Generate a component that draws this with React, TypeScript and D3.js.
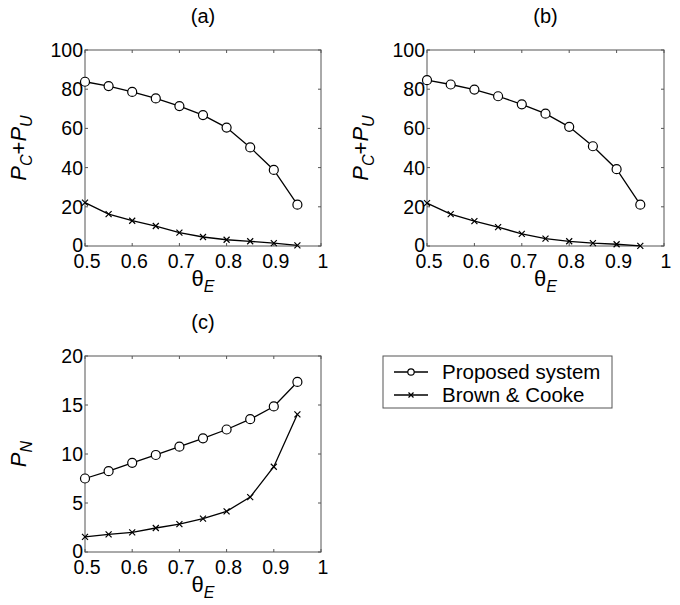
import React from "react";
import * as d3 from "d3";

// θ_E values shared by every panel
const theta = [0.5, 0.55, 0.6, 0.65, 0.7, 0.75, 0.8, 0.85, 0.9, 0.95];

// (a) P_C + P_U
const aProposed = [83.8, 81.6, 78.6, 75.3, 71.4, 66.8, 60.4, 50.3, 38.8, 21.1];
const aBrown = [22.1, 16.3, 12.9, 10.2, 6.8, 4.6, 3.2, 2.4, 1.5, 0.3];

// (b) P_C + P_U
const bProposed = [84.6, 82.4, 79.8, 76.4, 72.3, 67.5, 60.8, 50.9, 39.2, 21.1];
const bBrown = [21.9, 16.3, 12.7, 9.6, 6.2, 3.8, 2.4, 1.5, 0.9, 0.1];

// (c) P_N
const cProposed = [7.5, 8.25, 9.1, 9.9, 10.75, 11.6, 12.5, 13.55, 14.85, 17.35];
const cBrown = [1.55, 1.8, 2.0, 2.45, 2.85, 3.4, 4.15, 5.6, 8.7, 14.05];

const xTicks = [0.5, 0.6, 0.7, 0.8, 0.9, 1];
const xTickLabels = ["0.5", "0.6", "0.7", "0.8", "0.9", "1"];
const pcTicks = [0, 20, 40, 60, 80, 100];
const pnTicks = [0, 5, 10, 15, 20];

const seriesNames = ["Proposed system", "Brown & Cooke"];

const FONT = "'Liberation Sans', Arial, Helvetica, sans-serif";

type PanelProps = {
  left: number;
  right: number;
  top: number;
  bottom: number;
  title: string;
  yDomain: [number, number];
  yTicks: number[];
  proposed: number[];
  brown: number[];
  yLabel: "pcpu" | "pn";
};

function Circle({ x, y, r }: { x: number; y: number; r: number }) {
  return <circle cx={x} cy={y} r={r} fill="white" stroke="black" strokeWidth={1.2} />;
}

function Cross({ x, y, s }: { x: number; y: number; s: number }) {
  return (
    <path
      d={`M${x - s},${y - s}L${x + s},${y + s}M${x - s},${y + s}L${x + s},${y - s}`}
      stroke="black"
      strokeWidth={1.2}
      fill="none"
    />
  );
}

function Panel(p: PanelProps) {
  const x = d3.scaleLinear().domain([0.5, 1]).range([p.left, p.right]);
  const y = d3.scaleLinear().domain(p.yDomain).range([p.bottom, p.top]);
  const line = d3
    .line<number>()
    .x((_, i) => x(theta[i]))
    .y((d) => y(d));
  const tl = 3;
  const cx = (p.left + p.right) / 2;
  const cy = (p.top + p.bottom) / 2;
  const frame = "#555";

  return (
    <g>
      <text x={cx} y={p.top - 27} textAnchor="middle" fontSize={20} fontFamily={FONT}>
        {p.title}
      </text>

      {/* ticks, drawn inward on all four sides */}
      {xTicks.map((t) => (
        <g key={"xt" + t}>
          <line x1={x(t)} x2={x(t)} y1={p.bottom} y2={p.bottom - tl} stroke={frame} />
          <line x1={x(t)} x2={x(t)} y1={p.top} y2={p.top + tl} stroke={frame} />
        </g>
      ))}
      {p.yTicks.map((t) => (
        <g key={"yt" + t}>
          <line x1={p.left} x2={p.left + tl} y1={y(t)} y2={y(t)} stroke={frame} />
          <line x1={p.right} x2={p.right - tl} y1={y(t)} y2={y(t)} stroke={frame} />
        </g>
      ))}
      <rect
        x={p.left}
        y={p.top}
        width={p.right - p.left}
        height={p.bottom - p.top}
        fill="none"
        stroke={frame}
        strokeWidth={1}
      />

      {/* tick labels */}
      {xTicks.map((t, i) => (
        <text
          key={"xl" + t}
          x={x(t) + 2}
          y={p.bottom + 22}
          textAnchor="middle"
          fontSize={19.5}
          fontFamily={FONT}
        >
          {xTickLabels[i]}
        </text>
      ))}
      {p.yTicks.map((t) => (
        <text
          key={"yl" + t}
          x={p.left - 2}
          y={y(t)}
          dy={t === 0 ? "0.3em" : "0.36em"}
          textAnchor="end"
          fontSize={19.5}
          fontFamily={FONT}
        >
          {t}
        </text>
      ))}

      {/* x-axis label θ_E */}
      <text x={cx} y={p.bottom + 40} textAnchor="middle" fontSize={22} fontFamily={FONT}>
        θ
        <tspan fontSize={16} fontStyle="italic" dy={6}>
          E
        </tspan>
      </text>

      {/* y-axis label */}
      <text
        transform={`translate(${p.left - 59},${cy}) rotate(-90)`}
        textAnchor="middle"
        fontSize={22}
        fontFamily={FONT}
      >
        {p.yLabel === "pcpu" ? (
          <>
            <tspan fontStyle="italic">P</tspan>
            <tspan fontSize={16} fontStyle="italic" dy={6}>
              C
            </tspan>
            <tspan dy={-6}>+</tspan>
            <tspan fontStyle="italic">P</tspan>
            <tspan fontSize={16} fontStyle="italic" dy={6}>
              U
            </tspan>
          </>
        ) : (
          <>
            <tspan fontStyle="italic">P</tspan>
            <tspan fontSize={16} fontStyle="italic" dy={6}>
              N
            </tspan>
          </>
        )}
      </text>

      {/* series */}
      <path d={line(p.proposed) || ""} fill="none" stroke="black" strokeWidth={1.3} />
      <path d={line(p.brown) || ""} fill="none" stroke="black" strokeWidth={1.3} />
      {p.proposed.map((v, i) => (
        <Circle key={"c" + i} x={x(theta[i])} y={y(v)} r={4.5} />
      ))}
      {p.brown.map((v, i) => (
        <Cross key={"x" + i} x={x(theta[i])} y={y(v)} s={3} />
      ))}
    </g>
  );
}

function Legend({ x0, y0, w, h }: { x0: number; y0: number; w: number; h: number }) {
  const rows = [y0 + 16, y0 + 39];
  return (
    <g>
      <rect x={x0} y={y0} width={w} height={h} fill="white" stroke="#555" strokeWidth={1} />
      {seriesNames.map((name, i) => (
        <g key={name}>
          <line x1={x0 + 11} x2={x0 + 45} y1={rows[i]} y2={rows[i]} stroke="black" strokeWidth={1.3} />
          {i === 0 ? (
            <circle cx={x0 + 28} cy={rows[i]} r={3.2} fill="white" stroke="black" strokeWidth={1.2} />
          ) : (
            <Cross x={x0 + 28} y={rows[i]} s={2.5} />
          )}
          <text x={x0 + 59} y={rows[i]} dy="0.36em" fontSize={20.5} fontFamily={FONT}>
            {name}
          </text>
        </g>
      ))}
    </g>
  );
}

export default function App() {
  return (
    <svg
      width={680}
      height={605}
      style={{ position: "absolute", left: 0, top: 0, background: "white" }}
    >
      <rect width={680} height={605} fill="white" />
      <Panel
        left={85}
        right={321}
        top={50}
        bottom={246}
        title="(a)"
        yDomain={[0, 100]}
        yTicks={pcTicks}
        proposed={aProposed}
        brown={aBrown}
        yLabel="pcpu"
      />
      <Panel
        left={427}
        right={664}
        top={50}
        bottom={246}
        title="(b)"
        yDomain={[0, 100]}
        yTicks={pcTicks}
        proposed={bProposed}
        brown={bBrown}
        yLabel="pcpu"
      />
      <Panel
        left={85}
        right={321}
        top={356}
        bottom={552}
        title="(c)"
        yDomain={[0, 20]}
        yTicks={pnTicks}
        proposed={cProposed}
        brown={cBrown}
        yLabel="pn"
      />
      <Legend x0={383} y0={356} w={229} h={52} />
    </svg>
  );
}
